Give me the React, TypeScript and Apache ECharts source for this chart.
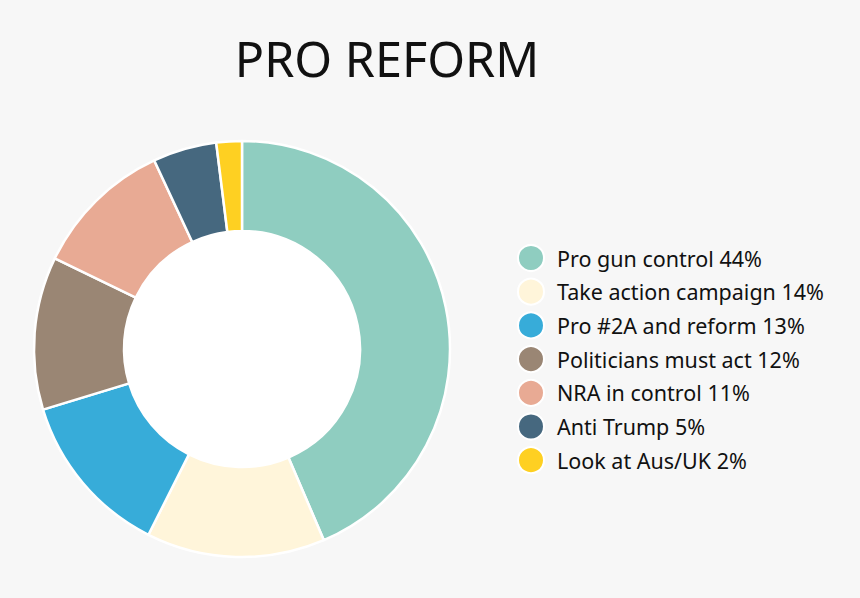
import { useEffect, useRef } from 'react';
import * as echarts from 'echarts';

const categories = [
  'Pro gun control',
  'Take action campaign',
  'Pro #2A and reform',
  'Politicians must act',
  'NRA in control',
  'Anti Trump',
  'Look at Aus/UK',
];
const shares = [44, 14, 13, 12, 11, 5, 2];
const colors = ['#8fcdc0', '#fff5da', '#37acd9', '#9a8674', '#e8aa94', '#46687f', '#fed022'];

const FONT = '"Noto Sans", sans-serif';

export default function App() {
  const chartRef = useRef<HTMLDivElement>(null);

  useEffect(() => {
    if (!chartRef.current) return;
    document.body.style.margin = '0';
    const chart = echarts.init(chartRef.current, null, { renderer: 'svg' });

    const labelOf: Record<string, string> = {};
    categories.forEach((c, i) => {
      labelOf[c] = `${c} ${shares[i]}%`;
    });

    chart.setOption({
      animation: false,
      backgroundColor: '#f7f7f7',
      color: colors,
      title: {
        text: 'PRO REFORM',
        left: 382,
        top: 28,
        textAlign: 'center',
        textStyle: { fontFamily: FONT, fontSize: 48.5, fontWeight: 'normal', color: '#111111' },
      },
      legend: {
        orient: 'vertical',
        left: 512,
        top: 239,
        icon: 'circle',
        itemWidth: 42,
        itemHeight: 26,
        itemGap: 5.7,
        data: categories,
        formatter: (name: string) => labelOf[name],
        textStyle: { fontFamily: FONT, fontSize: 21.5, lineHeight: 26, color: '#111111' },
      },
      series: [
        {
          type: 'pie',
          silent: true,
          center: [242, 349],
          radius: [0, 118],
          label: { show: false },
          itemStyle: { color: '#ffffff' },
          data: [{ value: 1, name: '' }],
          z: 1,
        },
        {
          type: 'pie',
          center: [242, 349],
          radius: [118, 208],
          startAngle: 90,
          clockwise: true,
          label: { show: false },
          labelLine: { show: false },
          itemStyle: { borderColor: '#ffffff', borderWidth: 2.5 },
          data: categories.map((c, i) => ({ name: c, value: shares[i] })),
          z: 2,
        },
      ],
    });

    return () => chart.dispose();
  }, []);

  return <div ref={chartRef} style={{ width: 860, height: 598 }} />;
}
